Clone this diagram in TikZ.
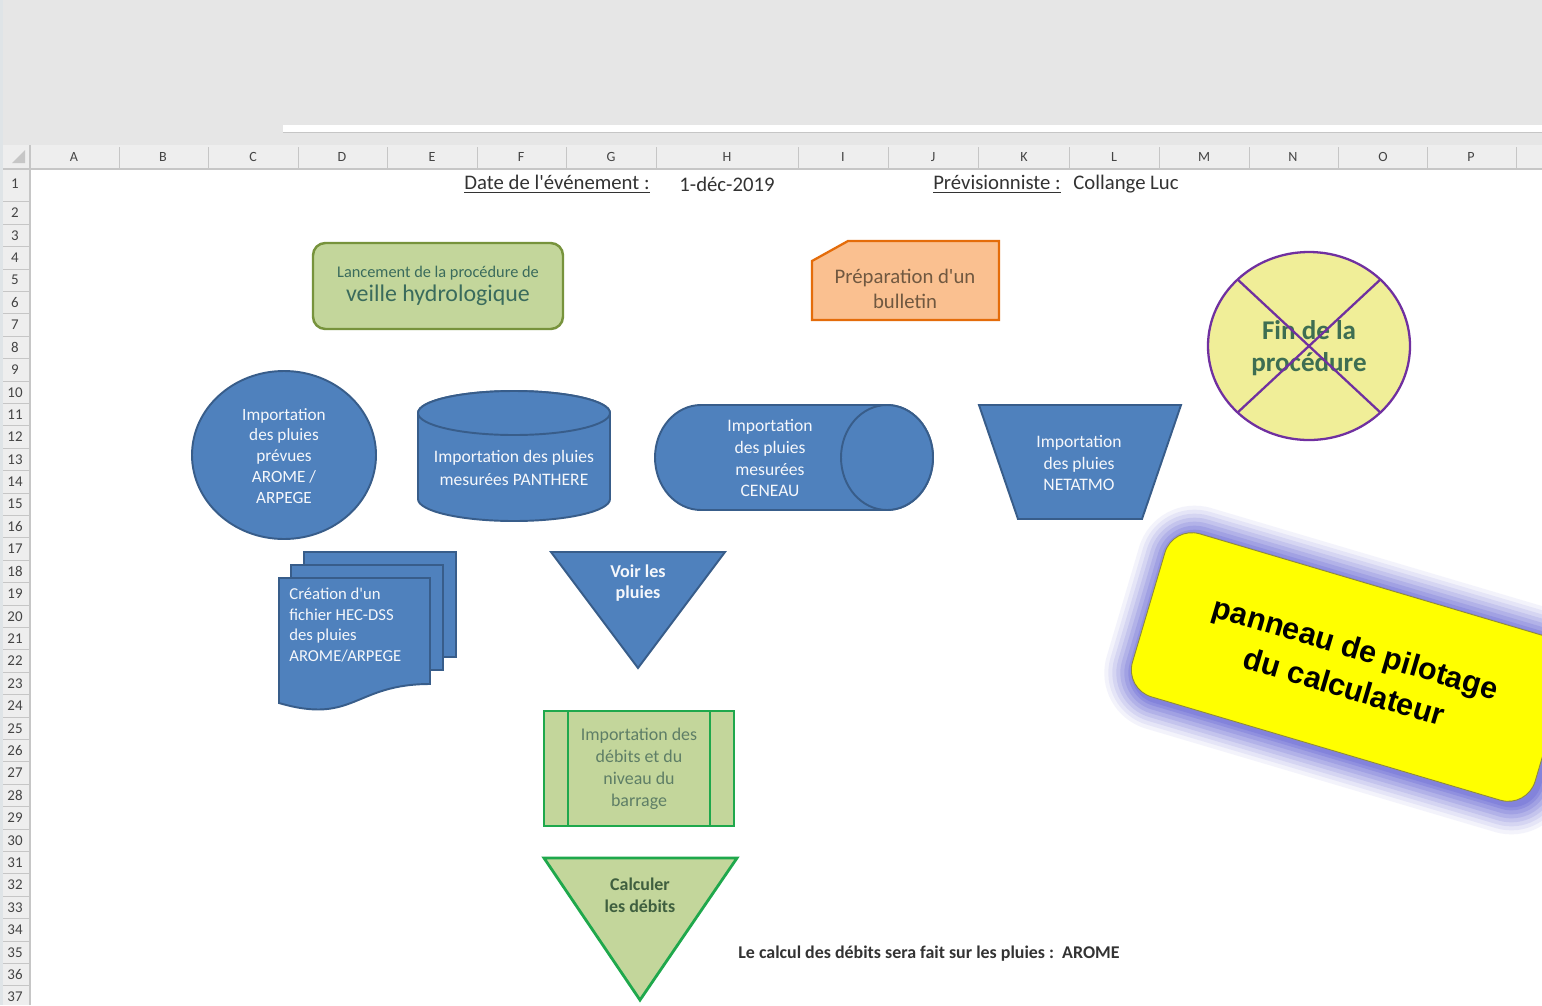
\documentclass[tikz,border=0pt]{standalone}
\usepackage{fontspec}
\setmainfont{Carlito}
\newfontfamily\panelfont{Liberation Sans}
\usetikzlibrary{positioning,calc}
\definecolor{Bc}{HTML}{4F81BD}
\definecolor{Bd}{HTML}{385D8A}
\definecolor{Gc}{HTML}{C3D69B}
\definecolor{Gd}{HTML}{77933C}
\definecolor{Gk}{HTML}{1FA84C}
\definecolor{Oc}{HTML}{FAC090}
\definecolor{Od}{HTML}{E46C0A}
\definecolor{Fc}{HTML}{F0EE98}
\definecolor{Fd}{HTML}{7030A0}
\definecolor{Yc}{HTML}{FFFF00}
\definecolor{glow}{HTML}{6C6CD6}
\definecolor{winbg}{HTML}{E6E6E6}
\definecolor{hdbg}{HTML}{EEEEEE}
\definecolor{hdline}{HTML}{C6C6C6}
\definecolor{hdtxt}{HTML}{444444}
\definecolor{txt}{HTML}{333333}
\definecolor{lanctxt}{HTML}{3A6B5C}
\definecolor{bulltxt}{HTML}{705840}
\definecolor{fintxt}{HTML}{3E6E52}
\definecolor{imptxt}{HTML}{5E7E66}
\definecolor{calctxt}{HTML}{3F5F3F}
\tikzset{
  bshape/.style={fill=Bc, draw=Bd, line width=1.1pt},
  btxt/.style={text=white!94!Bc, align=center, inner sep=0pt},
  gtxt/.style={align=center, inner sep=0pt},
  colhd/.style={font=\fontsize{8}{9}\selectfont, text=hdtxt},
  rowhd/.style={font=\fontsize{8.5}{9}\selectfont, text=hdtxt},
  hdsep/.style={hdline, line width=0.4pt},
  celltxt/.style={font=\fontsize{11.8}{14}\selectfont, text=txt, inner sep=0pt},
}
\begin{document}
\begin{tikzpicture}[x=0.02cm, y=-0.02cm]
  \useasboundingbox (0,0) rectangle (1542,1005);
  \clip (0,0) rectangle (1542,1005);
  % window and headers
  \fill[white] (0,0) rectangle (1542,1005);
  \fill[winbg] (0,0) rectangle (1542,145);
  \fill[white] (283,125) rectangle (1542,132);
  \draw[hdsep] (283,132) -- (1542,132);
  \fill[hdbg] (0,145) rectangle (1542,169);
  \fill[hdbg] (0,145) rectangle (30,1005);
  \fill[gray!45] (25,150) -- (25,163) -- (12,163) -- cycle;
  \foreach \cx in {119,208,298,387,477,566,656,798,888,978,1069,1159,1249,1338,1427,1516}
    \draw[hdsep] (\cx,147) -- (\cx,168);
  \foreach \lt/\cx in {A/74,B/163,C/253,D/342,E/432,F/521,G/611,H/727,I/843,J/933,K/1024,L/1114,M/1204,N/1293,O/1383,P/1471}
    \node[colhd] (col\lt) at (\cx,157) {\lt};
  \node[rowhd] (row1) at (15,184) {1};
  \draw[hdsep] (2,201.8) -- (30,201.8);
  \foreach \r in {2,...,37}{
    \node[rowhd] (row\r) at (15,{213+(\r-2)*22.4}) {\r};
    \draw[hdsep] (2,{224.2+(\r-2)*22.4}) -- (30,{224.2+(\r-2)*22.4});}
  \draw[hdline, line width=0.8pt] (0,169) -- (1542,169);
  \draw[hdline, line width=0.8pt] (30,145) -- (30,1005);
  \fill[cyan!15!gray!25] (0,0) rectangle (3,1005);

  % row 1
  \node[celltxt] (datelbl) at (557,184) {\underline{Date de l\textquotesingle événement :}};
  \node[celltxt] (dateval) at (727,184) {1-déc-2019};
  \node[celltxt] (prevlbl) at (997,184) {\underline{Prévisionniste :}};
  \node[celltxt] (prevval) at (1126,184) {Collange Luc};

  % start
  \draw[fill=Gc, draw=Gd, line width=1.4pt, rounded corners=7pt] (313,243) rectangle (563,329);
  \node[gtxt, text=lanctxt] (lanc) at (438,286)
    {{\fontsize{9.3}{10}\selectfont Lancement de la procédure de}\\[2pt]
     {\fontsize{13.6}{15}\selectfont veille hydrologique}};

  % bulletin
  \draw[fill=Oc, draw=Od, line width=1.3pt] (848,241) -- (999,241) -- (999,320) -- (812,320) -- (812,261) -- cycle;
  \node[gtxt, text=bulltxt, font=\fontsize{11.8}{14}\selectfont] (bull) at (905,289)
    {Préparation d\textquotesingle un\\bulletin};

  % end
  \draw[fill=Fc, draw=Fd, line width=1.3pt] (1309,346) ellipse [x radius=101, y radius=94];
  \node[gtxt, text=fintxt, font=\bfseries\fontsize{15.4}{18.2}\selectfont] (fin) at (1309,348)
    {Fin de la\\procédure};
  \draw[Fd, line width=1.3pt] (1237.6,279.5) -- (1380.4,412.5);
  \draw[Fd, line width=1.3pt] (1380.4,279.5) -- (1237.6,412.5);

  % forecast rain
  \draw[bshape] (284,455) ellipse [x radius=92, y radius=84];
  \node[btxt, font=\fontsize{9.8}{11.9}\selectfont] (arome) at (284,456)
    {Importation\\des pluies\\prévues\\AROME /\\ARPEGE};

  % panthere
  \draw[bshape] (418,413) -- (418,499) arc[start angle=180, end angle=0, x radius=96, y radius=22]
    -- (610,413) arc[start angle=0, end angle=-180, x radius=96, y radius=22] -- cycle;
  \draw[bshape] (514,413) ellipse [x radius=96, y radius=22];
  \node[btxt, font=\fontsize{10}{13}\selectfont] (panth) at (514,468)
    {Importation des pluies\\mesurées PANTHERE};

  % ceneau
  \draw[bshape] (701,405) -- (887,405) arc[start angle=-90, end angle=90, x radius=46, y radius=52.5]
    -- (701,510) arc[start angle=90, end angle=270, x radius=46, y radius=52.5] -- cycle;
  \draw[bshape] (887,457.5) ellipse [x radius=46, y radius=52.5];
  \node[btxt, font=\fontsize{10}{12.5}\selectfont] (cen) at (770,458)
    {Importation\\des pluies\\mesurées\\CENEAU};

  % netatmo
  \draw[bshape] (979,405) -- (1181,405) -- (1142,519) -- (1018,519) -- cycle;
  \node[btxt, font=\fontsize{10}{12.2}\selectfont] (neta) at (1079,463)
    {Importation\\des pluies\\NETATMO};

  % hec-dss
  \draw[bshape] (304,552) rectangle (456,657);
  \draw[bshape] (291,565) rectangle (443,670);
  \draw[bshape] (279,578) -- (430,578) -- (430,684)
    .. controls (354,684) and (354,725) .. (279,703) -- cycle;
  \node[btxt, align=left, anchor=west, font=\fontsize{9.5}{11.6}\selectfont] (hec) at (289,625)
    {Création d\textquotesingle un\\fichier HEC-DSS\\des pluies\\AROME/ARPEGE};

  % voir
  \draw[bshape] (551,552) -- (725,552) -- (638,668) -- cycle;
  \node[btxt, font=\bfseries\fontsize{10.3}{12.4}\selectfont] (voir) at (638,583) {Voir les\\pluies};

  % debits
  \draw[fill=Gc, draw=Gk, line width=1.6pt] (544,711) rectangle (734,826);
  \draw[Gk, line width=1.6pt] (568,711) -- (568,826);
  \draw[Gk, line width=1.6pt] (710,711) -- (710,826);
  \node[gtxt, text=imptxt, font=\fontsize{10.2}{12.5}\selectfont] (imp) at (639,769)
    {Importation des\\débits et du\\niveau du\\barrage};

  % calculer
  \draw[fill=Gc, draw=Gk, line width=1.6pt] (544,858) -- (737,858) -- (640,1000) -- cycle;
  \node[gtxt, text=calctxt, font=\bfseries\fontsize{10.2}{12.4}\selectfont] (calc) at (640,895)
    {Calculer\\les débits};
  \node[anchor=west, inner sep=0pt, text=txt, font=\bfseries\fontsize{10.2}{12}\selectfont] (note) at (738,954)
    {Le calcul des débits sera fait sur les pluies :~~AROME};

  % panel
  \foreach \g/\op in {30/0.08,26/0.1,22/0.13,18/0.16,14/0.2,10/0.24,6/0.3,3/0.35}
    \fill[glow, opacity=\op, rotate around={-16.5:(1353,670)}, rounded corners={(28+\g)*0.02cm}]
      ({1353-210-\g},{670-85-\g}) rectangle ({1353+210+\g},{670+85+\g});
  \node[rotate=-16.5, fill=Yc, draw=olive!60!gray, line width=0.5pt, rounded corners=0.56cm,
    minimum width=8.4cm, minimum height=3.4cm, align=center,
    font=\panelfont\bfseries\fontsize{17.4}{23}\selectfont] (panel) at (1350,667)
    {panneau de pilotage\\du calculateur};
\end{tikzpicture}
\end{document}
